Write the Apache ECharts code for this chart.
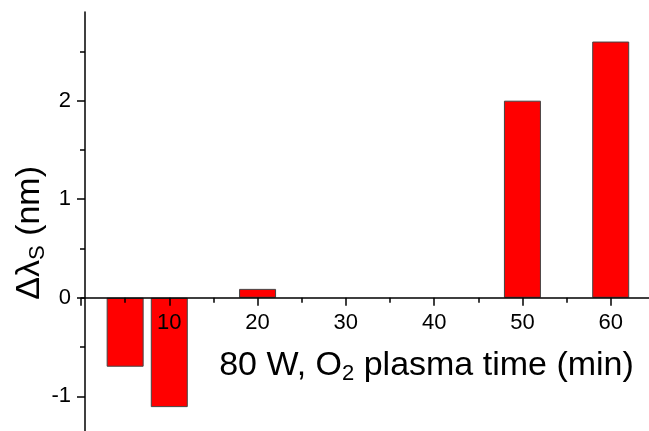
<!DOCTYPE html>
<html>
<head>
<meta charset="utf-8">
<script src="https://cdn.jsdelivr.net/npm/echarts@6/dist/echarts.min.js"></script>
<style>
html, body { margin: 0; padding: 0; background: #fff; }
#chart { width: 649px; height: 431px; }
</style>
</head>
<body>
<div id="chart"></div>
<script>
// plasma time (min) and resonance shift (nm)
var times = [5, 10, 20, 50, 60];
var shifts = [-0.7, -1.11, 0.09, 2.0, 2.6];
var yMajor = [-1, 0, 1, 2];
var yMinor = [-1.5, -0.5, 0.5, 1.5, 2.5];

var font = 'Liberation Sans, Arial, sans-serif';
var myChart = echarts.init(document.getElementById('chart'));

var barData = [];
for (var i = 0; i < times.length; i++) {
    barData.push([times[i], shifts[i]]);
}

// grid spans y from -1.4 (bottom, 435.7px) to 2.9 (top, 12px); zero sits at ~297.7px
var gridTop = 12, gridBottomPx = 435.7;
var yMin = -1.4, yMax = 2.9;
var zeroOffset = (gridBottomPx - gridTop) * (0 - yMin) / (yMax - yMin);

var option = {
    animation: false,
    grid: {
        left: 81,
        right: -50,
        top: gridTop,
        bottom: 431 - gridBottomPx,
        outerBoundsMode: 'none',
        containLabel: false
    },
    xAxis: {
        type: 'value',
        min: 0,
        max: 70,
        interval: 10,
        offset: -zeroOffset,
        z: 10,
        name: '80 W, O{sub|2} plasma time (min)',
        nameLocation: 'middle',
        nameGap: 49,
        nameTextStyle: {
            fontFamily: font,
            fontSize: 34,
            color: '#000',
            padding: [0, 0, 0, 73],
            rich: {
                sub: { fontFamily: font, fontSize: 22, color: '#000', verticalAlign: 'bottom', padding: [16, 0, 0, 0] }
            }
        },
        axisLine: { onZero: false, lineStyle: { color: '#000', width: 1.5 } },
        axisTick: { inside: false, length: 8, lineStyle: { color: '#000', width: 1.5 } },
        minorTick: { show: true, splitNumber: 2, length: 5, lineStyle: { color: '#000', width: 1.5 } },
        axisLabel: { fontFamily: font, fontSize: 22, color: '#000', margin: 14, showMinLabel: false, showMaxLabel: false },
        splitLine: { show: false }
    },
    yAxis: [
        {
            type: 'value',
            min: yMin,
            max: yMax,
            offset: -4,
            z: 10,
            name: '\u0394\u03bb{sub|S} (nm)',
            nameLocation: 'middle',
            nameGap: 36,
            nameMoveOverlap: false,
            nameRotate: 90,
            nameTextStyle: {
                fontFamily: font,
                fontSize: 34,
                color: '#000',
                padding: [0, 18, 0, 0],
                rich: {
                    sub: { fontFamily: font, fontSize: 22, color: '#000', verticalAlign: 'bottom', padding: [16, 0, 0, 0] }
                }
            },
            axisLine: { show: true, onZero: false, lineStyle: { color: '#000', width: 1.5 } },
            axisTick: { show: true, customValues: yMajor, length: 8, lineStyle: { color: '#000', width: 1.5 } },
            axisLabel: { customValues: yMajor, fontFamily: font, fontSize: 22, color: '#000', margin: 14 },
            splitLine: { show: false }
        },
        {
            type: 'value',
            min: yMin,
            max: yMax,
            offset: -4,
            position: 'left',
            axisLine: { show: false },
            axisTick: { show: true, customValues: yMinor, length: 5, lineStyle: { color: '#000', width: 1.5 } },
            axisLabel: { show: false },
            splitLine: { show: false }
        }
    ],
    series: [
        {
            type: 'bar',
            yAxisIndex: 0,
            barWidth: 37,
            data: barData,
            itemStyle: {
                color: '#ff0000',
                borderColor: '#444',
                borderWidth: 1
            }
        }
    ]
};

myChart.setOption(option);
</script>
</body>
</html>
